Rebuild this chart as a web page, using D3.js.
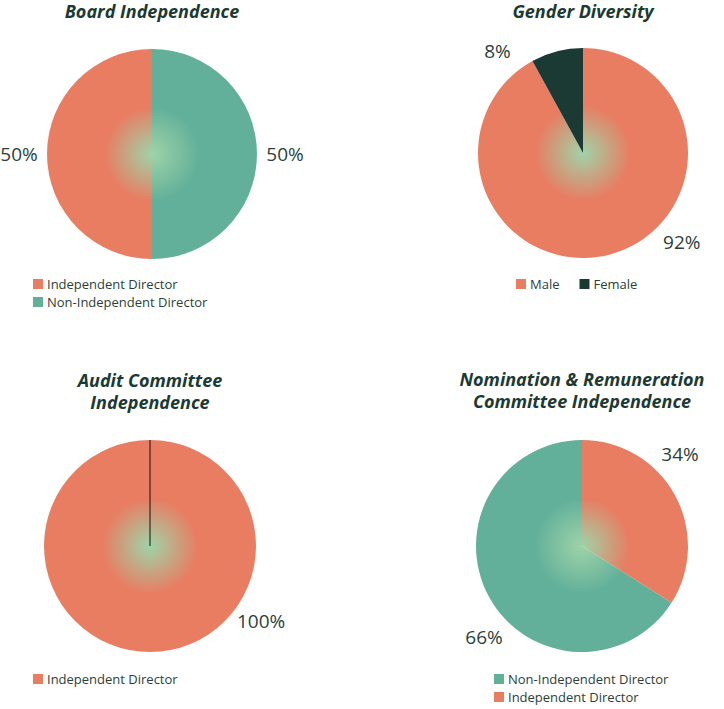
<!DOCTYPE html>
<html><head><meta charset="utf-8">
<script src="https://cdn.jsdelivr.net/npm/d3@7"></script>
<style>body{margin:0;background:#fff}text{font-family:"Open Sans",sans-serif}</style>
</head><body><svg id="c" width="724" height="709"></svg>
<script>
const boardCats = ['Non-Independent Director', 'Independent Director'];
const boardVals = [50, 50];
const genderCats = ['Male', 'Female'];
const genderVals = [92, 8];
const auditCats = ['Independent Director'];
const auditVals = [100];
const nomCats = ['Independent Director', 'Non-Independent Director'];
const nomVals = [34, 66];

const colorOf = {
    'Independent Director': '#E87D62',
    'Non-Independent Director': '#62B09A',
    'Male': '#E87D62',
    'Female': '#1B3A33'
};
const svg = d3.select('#c');
const defs = svg.append('defs');

const charts = [
    {title: ['Board Independence'], cats: boardCats, vals: boardVals, cx: 152, cy: 154, r: 105, ty: 18,
     labelDeg: [90, 270], legend: {x: 33, y: 284, order: ['Independent Director', 'Non-Independent Director'], horiz: false}},
    {title: ['Gender Diversity'], cats: genderCats, vals: genderVals, cx: 583, cy: 153, r: 105, ty: 18,
     labelDeg: [132, -40], legend: {x: 516, y: 284, order: ['Male', 'Female'], horiz: true}},
    {title: ['Audit Committee', 'Independence'], cats: auditCats, vals: auditVals, cx: 150, cy: 546, r: 106, ty: 387,
     labelDeg: [124], legend: {x: 33, y: 679, order: ['Independent Director'], horiz: false}, spoke: true},
    {title: ['Nomination & Remuneration', 'Committee Independence'], cats: nomCats, vals: nomVals, cx: 582, cy: 546, r: 106, ty: 386,
     labelDeg: [47, 227], legend: {x: 494, y: 679, order: ['Non-Independent Director', 'Independent Director'], horiz: false}}
];

charts.forEach((c, ci) => {
    const g = svg.append('g').attr('transform', `translate(${c.cx},${c.cy})`);
    const arcs = d3.pie().sort(null)(c.vals);
    const arc = d3.arc().innerRadius(0).outerRadius(c.r);
    arcs.forEach((d, i) => {
        const col = colorOf[c.cats[i]];
        const id = `grad${ci}_${i}`;
        const gr = defs.append('radialGradient').attr('id', id)
            .attr('gradientUnits', 'userSpaceOnUse').attr('cx', 0).attr('cy', 0).attr('r', c.r);
        gr.append('stop').attr('offset', '0%').attr('stop-color', c.cats[i] === 'Female' ? col : '#9FD3A8');
        gr.append('stop').attr('offset', '45%').attr('stop-color', col);
        gr.append('stop').attr('offset', '100%').attr('stop-color', col);
        g.append('path').attr('d', arc(d)).attr('fill', `url(#${id})`);
        const a = c.labelDeg[i] * Math.PI / 180, lr = c.r + 28;
        g.append('text').attr('x', Math.sin(a) * lr).attr('y', -Math.cos(a) * lr)
            .attr('text-anchor', 'middle').attr('dy', '0.35em')
            .attr('font-size', 19).attr('fill', '#2B3F3A').text(c.vals[i] + '%');
    });
    if (c.spoke) g.append('line').attr('x1', 0).attr('y1', 0).attr('x2', 0).attr('y2', -c.r)
        .attr('stroke', '#111').attr('stroke-width', 1);
    c.title.forEach((t, k) => svg.append('text').attr('x', c.cx).attr('y', c.ty + k * 22)
        .attr('text-anchor', 'middle').attr('font-size', 18).attr('font-weight', 'bold')
        .attr('font-style', 'italic').attr('fill', '#1B3A33').text(t));
    let x = c.legend.x;
    c.legend.order.forEach((name, k) => {
        const y = c.legend.horiz ? c.legend.y : c.legend.y + k * 18;
        const item = svg.append('g').attr('transform', `translate(${x},${y})`);
        item.append('rect').attr('x', 0).attr('y', -5).attr('width', 10).attr('height', 10).attr('fill', colorOf[name]);
        const tx = item.append('text').attr('x', 14).attr('dy', '0.35em').attr('font-size', 13)
            .attr('fill', '#2B3F3A').text(name);
        if (c.legend.horiz) x += 14 + tx.node().getComputedTextLength() + 20;
    });
});
</script></body></html>
